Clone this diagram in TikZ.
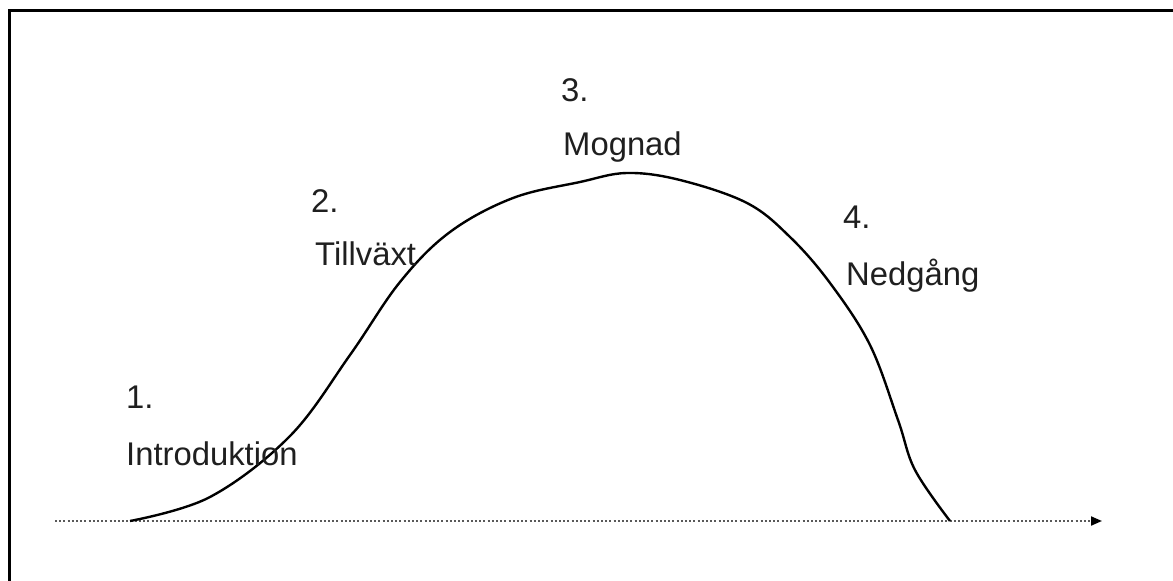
\documentclass[tikz,border=0pt]{standalone}
\usepackage{fontspec}
\setmainfont{Liberation Sans}
\usepackage{tikz}
\usetikzlibrary{arrows.meta, positioning}

\tikzset{
  stage/.style={font=\fontsize{32.8}{38}\selectfont, anchor=base west,
                inner sep=0pt, text=black!88},
  axisline/.style={gray!70!black, line width=2pt, dash pattern=on 2pt off 2.2pt,
                   -{Triangle[length=11pt, width=9pt, black]}},
  lifecurve/.style={black, line width=2.4pt, line join=round}
}

\begin{document}
\begin{tikzpicture}[x=1pt, y=-1pt]
    \useasboundingbox (0,0) rectangle (1173,581);
    \fill[white] (0,0) rectangle (1173,581);

    % Frame (left and top edges only)
    \draw[black, line width=2.6pt] (9.7,581) -- (9.7,10.3) -- (1173,10.3);

    % Time axis
    \coordinate (axisstart) at (55,521);
    \coordinate (axisend) at (1102,521);
    \draw[axisline] (axisstart) -- (axisend);

    % Life cycle curve
    \coordinate (birth) at (130,521);
    \coordinate (death) at (950,521);
    \draw[lifecurve] plot[smooth, tension=0.6] coordinates {
        (130,521) (210,497) (290,436) (350,355) (400,282) (450,232)
        (513,198) (580,182) (627,173) (680,180) (747,203) (790,237)
        (830,283) (870,345) (898,420) (915,470) (950,521)};

    % Stage labels
    \node[stage] (n1) at (126,408) {1.};
    \node[stage] (intro) at (126,465) {Introduktion};
    \node[stage] (n2) at (311,212) {2.};
    \node[stage] (growth) at (315,265) {Tillväxt};
    \node[stage] (n3) at (561,101) {3.};
    \node[stage] (mature) at (563,155) {Mognad};
    \node[stage] (n4) at (843,228) {4.};
    \node[stage] (decline) at (846,285) {Nedgång};
\end{tikzpicture}
\end{document}
